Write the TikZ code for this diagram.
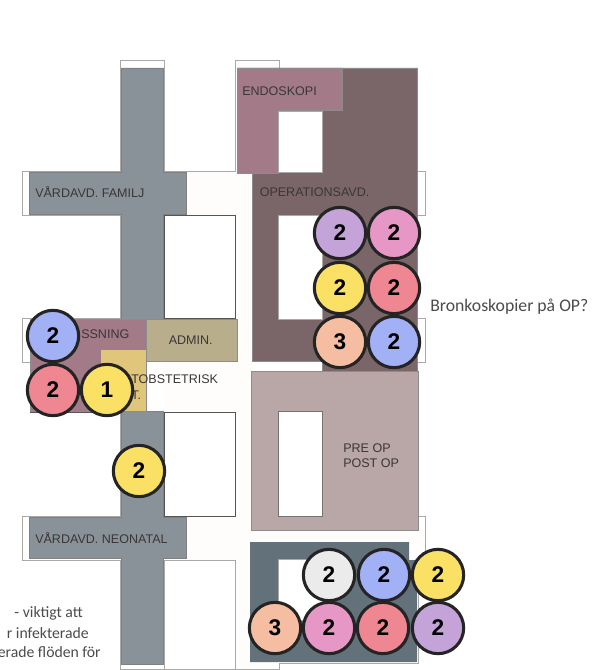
\documentclass[tikz,border=0pt]{standalone}
\usepackage{fontspec}
\setmainfont{Liberation Sans}
\newfontfamily\handfont{Carlito}
\definecolor{grayward}{HTML}{8A9299}
\definecolor{endo}{HTML}{A27A88}
\definecolor{opdark}{HTML}{7A6668}
\definecolor{preop}{HTML}{B9A6A7}
\definecolor{slate}{HTML}{62717A}
\definecolor{adminc}{HTML}{B8AE8C}
\definecolor{tan}{HTML}{E0C67A}
\definecolor{offw}{HTML}{FEFDFB}
\definecolor{ol}{HTML}{ABA9A7}
\definecolor{room}{HTML}{555555}
\definecolor{lilac}{HTML}{C3A3D8}
\definecolor{pinkc}{HTML}{E697C5}
\definecolor{yel}{HTML}{FBE066}
\definecolor{redc}{HTML}{EE8791}
\definecolor{oran}{HTML}{F5BEA2}
\definecolor{blu}{HTML}{A2B0F5}
\definecolor{whi}{HTML}{EBEBEB}
\definecolor{labelc}{HTML}{3A3638}
\tikzset{
  x=0.75pt,y=-0.75pt,
  badge/.style={circle,draw=black!86,line width=2.3pt,minimum size=38.5pt,inner sep=0pt,
    font=\fontsize{17}{17}\selectfont\bfseries,text=black},
  lbl/.style={anchor=west,inner sep=0pt,text=labelc,font=\fontsize{9.4}{11.3}\selectfont,align=left},
  hand/.style={inner sep=0pt,text=black!70,font=\handfont\fontsize{13.3}{15}\selectfont},
  note/.style={hand,anchor=east,font=\handfont\fontsize{11.8}{15}\selectfont},
  outl/.style={draw=ol,line width=0.7pt},
  roomline/.style={draw=room,line width=0.6pt},
  area/.style={draw=black!45,line width=0.3pt}
}
\begin{document}
\begin{tikzpicture}
\useasboundingbox (0,0) rectangle (596,670);
\clip (0,0) rectangle (596,670);
\fill[white] (0,0) rectangle (596,670);
% off-white interior
\fill[offw] (164,171) rectangle (252,670);
\fill[offw] (235,60) rectangle (279,171);
\fill[offw] (235,530) rectangle (425,545);
% outlines
\draw[outl,fill=white] (120,68) -- (120,60) -- (164,60) -- (164,68);
\draw[outl] (120,68) -- (120,171) -- (22,171) -- (22,215) -- (120,215) -- (120,318) -- (22,318) -- (22,362) -- (30,362) -- (30,412);
\draw[outl] (164,68) -- (164,171) -- (235,171) -- (235,60) -- (279,60) -- (279,68);
\draw[outl] (120,412) -- (120,516) -- (22,516) -- (22,560) -- (120,560) -- (120,669) -- (164,669) -- (164,560);
\draw[outl] (417,68) -- (417,171) -- (425,171) -- (425,215) -- (417,215) -- (417,318) -- (425,318) -- (425,362) -- (417,362) -- (417,371);
\draw[outl] (418,516) -- (425,516) -- (425,560) -- (418,560) -- (418,663) -- (279,663) -- (279,669) -- (235,669) -- (235,560);
\draw[roomline,fill=white] (164,215) rectangle (235,318);
\draw[roomline,fill=white] (164,412) rectangle (235,516);
\draw[outl,fill=white] (164,560) -- (235,560) -- (235,669) -- (164,669) -- cycle;
\draw[roomline] (30,412) -- (121,412);
% wards
\fill[grayward,draw=black!50,line width=0.3pt] (121,68) -- (163,68) -- (163,172) -- (186,172) -- (186,214) -- (163,214) -- (163,319) -- (121,319) -- (121,214) -- (29,214) -- (29,172) -- (121,172) -- cycle;
\fill[grayward,draw=black!50,line width=0.3pt] (121,411) -- (163,411) -- (163,517) -- (186,517) -- (186,558) -- (163,558) -- (163,664) -- (121,664) -- (121,558) -- (29,558) -- (29,517) -- (121,517) -- cycle;
% reception block
\fill[endo,area] (30,319) rectangle (146,411);
\fill[tan] (101,350) rectangle (146,411);
\fill[adminc,area] (146,319) rectangle (237,361);
% surgery
\fill[opdark,area] (237,68) -- (417,68) -- (417,371) -- (322,371) -- (322,361) -- (252,361) -- (252,173) -- (237,173) -- cycle;
\fill[endo,area] (237,68) -- (342,68) -- (342,110) -- (278,110) -- (278,173) -- (237,173) -- cycle;
\draw[outl,fill=white] (278,111) rectangle (322,172);
\draw[outl,fill=white] (278,215) rectangle (322,319);
% pre/post op
\fill[preop,area] (251,371) rectangle (418,530);
\draw[outl,draw=black!55,fill=white] (278,411) rectangle (322,516);
% bottom block
\fill[slate] (250,542) -- (409,542) -- (409,560) -- (417,560) -- (417,662) -- (250,662) -- cycle;
\draw[outl,fill=white] (278,620) -- (278,559) -- (322,559) -- (322,620) -- cycle;
% labels
\node[lbl] (familj) at (35,192.5) {VÅRDAVD. FAMILJ};
\node[lbl] (neonatal) at (35,538.5) {VÅRDAVD. NEONATAL};
\node[lbl] (endoskopi) at (242,91) {ENDOSKOPI};
\node[lbl] (opavd) at (259.5,192) {OPERATIONSAVD.};
\node[lbl] (prepost) at (343,455.5) {PRE OP\\POST OP};
\node[lbl] (admin) at (168.5,340) {ADMIN.};
\node[lbl] (ssning) at (81,334) {SSNING};
\node[lbl] (obst) at (131,379.5) {TOBSTETRISK};
\node[lbl] (avd) at (131,395) {T.};
% badges
\node[badge,fill=blu] (b1) at (53,336) {2};
\node[badge,fill=redc] (b2) at (53,390) {2};
\node[badge,fill=yel] (b3) at (107,390) {1};
\node[badge,fill=yel] (b4) at (139,471) {2};
\node[badge,fill=lilac] (c1) at (340,233) {2};
\node[badge,fill=pinkc] (c2) at (394,233) {2};
\node[badge,fill=yel] (c3) at (340,288) {2};
\node[badge,fill=redc] (c4) at (394,288) {2};
\node[badge,fill=oran] (c5) at (340,342) {3};
\node[badge,fill=blu] (c6) at (394,342) {2};
\node[badge,fill=whi] (d1) at (329,575) {2};
\node[badge,fill=blu] (d2) at (384,575) {2};
\node[badge,fill=yel] (d3) at (438,575) {2};
\node[badge,fill=oran] (d4) at (275,628) {3};
\node[badge,fill=pinkc] (d5) at (329,628) {2};
\node[badge,fill=redc] (d6) at (383,628) {2};
\node[badge,fill=lilac] (d7) at (438,628) {2};
% handwritten notes
\node[hand,anchor=west] (bronk) at (430,307) {Bronkoskopier på OP?};
\node[note] (n1) at (83,613) {- viktigt att};
\node[note] (n2) at (89,633) {r infekterade};
\node[note] (n3) at (101,652) {erade flöden för};
\end{tikzpicture}
\end{document}
